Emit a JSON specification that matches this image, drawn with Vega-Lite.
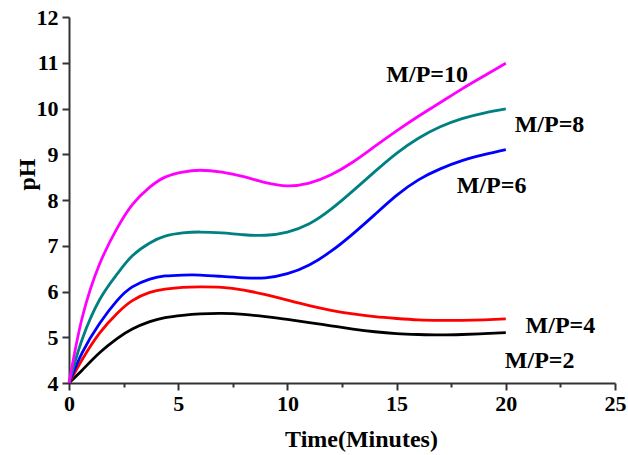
{
  "$schema": "https://vega.github.io/schema/vega-lite/v6.json",
  "width": 546,
  "height": 366,
  "autosize": "none",
  "padding": {"left": 69, "top": 17, "right": 13, "bottom": 72},
  "background": "white",
  "config": {"view": {"stroke": null}},
  "datasets": {
    "curves": [
      {"t": 0, "pH": 4, "s": "M/P=2"},
      {"t": 0.6, "pH": 4.28, "s": "M/P=2"},
      {"t": 1.4, "pH": 4.66, "s": "M/P=2"},
      {"t": 2.2, "pH": 4.97, "s": "M/P=2"},
      {"t": 2.9, "pH": 5.18, "s": "M/P=2"},
      {"t": 3.7, "pH": 5.34, "s": "M/P=2"},
      {"t": 4.4, "pH": 5.43, "s": "M/P=2"},
      {"t": 5.2, "pH": 5.48, "s": "M/P=2"},
      {"t": 6, "pH": 5.51, "s": "M/P=2"},
      {"t": 7, "pH": 5.52, "s": "M/P=2"},
      {"t": 8, "pH": 5.5, "s": "M/P=2"},
      {"t": 9, "pH": 5.45, "s": "M/P=2"},
      {"t": 10, "pH": 5.39, "s": "M/P=2"},
      {"t": 11, "pH": 5.32, "s": "M/P=2"},
      {"t": 12, "pH": 5.25, "s": "M/P=2"},
      {"t": 13, "pH": 5.18, "s": "M/P=2"},
      {"t": 14, "pH": 5.12, "s": "M/P=2"},
      {"t": 15, "pH": 5.08, "s": "M/P=2"},
      {"t": 16, "pH": 5.06, "s": "M/P=2"},
      {"t": 17, "pH": 5.05, "s": "M/P=2"},
      {"t": 18, "pH": 5.06, "s": "M/P=2"},
      {"t": 19, "pH": 5.08, "s": "M/P=2"},
      {"t": 20, "pH": 5.1, "s": "M/P=2"},

      {"t": 0, "pH": 4, "s": "M/P=4"},
      {"t": 0.6, "pH": 4.51, "s": "M/P=4"},
      {"t": 1.4, "pH": 5.09, "s": "M/P=4"},
      {"t": 2.2, "pH": 5.52, "s": "M/P=4"},
      {"t": 2.9, "pH": 5.8, "s": "M/P=4"},
      {"t": 3.7, "pH": 5.98, "s": "M/P=4"},
      {"t": 4.4, "pH": 6.05, "s": "M/P=4"},
      {"t": 5.2, "pH": 6.09, "s": "M/P=4"},
      {"t": 6, "pH": 6.1, "s": "M/P=4"},
      {"t": 7, "pH": 6.09, "s": "M/P=4"},
      {"t": 8, "pH": 6.03, "s": "M/P=4"},
      {"t": 9, "pH": 5.93, "s": "M/P=4"},
      {"t": 10, "pH": 5.81, "s": "M/P=4"},
      {"t": 11, "pH": 5.69, "s": "M/P=4"},
      {"t": 12, "pH": 5.59, "s": "M/P=4"},
      {"t": 13, "pH": 5.51, "s": "M/P=4"},
      {"t": 14, "pH": 5.45, "s": "M/P=4"},
      {"t": 15, "pH": 5.41, "s": "M/P=4"},
      {"t": 16, "pH": 5.38, "s": "M/P=4"},
      {"t": 17, "pH": 5.37, "s": "M/P=4"},
      {"t": 18, "pH": 5.37, "s": "M/P=4"},
      {"t": 19, "pH": 5.38, "s": "M/P=4"},
      {"t": 20, "pH": 5.4, "s": "M/P=4"},

      {"t": 0, "pH": 4, "s": "M/P=6"},
      {"t": 0.6, "pH": 4.66, "s": "M/P=6"},
      {"t": 1.4, "pH": 5.3, "s": "M/P=6"},
      {"t": 2.2, "pH": 5.8, "s": "M/P=6"},
      {"t": 2.9, "pH": 6.1, "s": "M/P=6"},
      {"t": 3.7, "pH": 6.27, "s": "M/P=6"},
      {"t": 4.4, "pH": 6.34, "s": "M/P=6"},
      {"t": 5.2, "pH": 6.36, "s": "M/P=6"},
      {"t": 6, "pH": 6.36, "s": "M/P=6"},
      {"t": 7, "pH": 6.33, "s": "M/P=6"},
      {"t": 8, "pH": 6.3, "s": "M/P=6"},
      {"t": 9, "pH": 6.3, "s": "M/P=6"},
      {"t": 10, "pH": 6.39, "s": "M/P=6"},
      {"t": 11, "pH": 6.58, "s": "M/P=6"},
      {"t": 12, "pH": 6.88, "s": "M/P=6"},
      {"t": 13, "pH": 7.26, "s": "M/P=6"},
      {"t": 14, "pH": 7.68, "s": "M/P=6"},
      {"t": 15, "pH": 8.1, "s": "M/P=6"},
      {"t": 16, "pH": 8.44, "s": "M/P=6"},
      {"t": 17, "pH": 8.68, "s": "M/P=6"},
      {"t": 18, "pH": 8.86, "s": "M/P=6"},
      {"t": 19, "pH": 8.99, "s": "M/P=6"},
      {"t": 20, "pH": 9.1, "s": "M/P=6"},

      {"t": 0, "pH": 4, "s": "M/P=8"},
      {"t": 0.6, "pH": 4.95, "s": "M/P=8"},
      {"t": 1.4, "pH": 5.82, "s": "M/P=8"},
      {"t": 2.2, "pH": 6.38, "s": "M/P=8"},
      {"t": 2.9, "pH": 6.78, "s": "M/P=8"},
      {"t": 3.7, "pH": 7.06, "s": "M/P=8"},
      {"t": 4.4, "pH": 7.21, "s": "M/P=8"},
      {"t": 5.2, "pH": 7.28, "s": "M/P=8"},
      {"t": 6, "pH": 7.3, "s": "M/P=8"},
      {"t": 7, "pH": 7.28, "s": "M/P=8"},
      {"t": 8, "pH": 7.24, "s": "M/P=8"},
      {"t": 9, "pH": 7.23, "s": "M/P=8"},
      {"t": 10, "pH": 7.3, "s": "M/P=8"},
      {"t": 11, "pH": 7.48, "s": "M/P=8"},
      {"t": 12, "pH": 7.8, "s": "M/P=8"},
      {"t": 13, "pH": 8.2, "s": "M/P=8"},
      {"t": 14, "pH": 8.62, "s": "M/P=8"},
      {"t": 15, "pH": 9.02, "s": "M/P=8"},
      {"t": 16, "pH": 9.35, "s": "M/P=8"},
      {"t": 17, "pH": 9.6, "s": "M/P=8"},
      {"t": 18, "pH": 9.78, "s": "M/P=8"},
      {"t": 19, "pH": 9.9, "s": "M/P=8"},
      {"t": 20, "pH": 9.99, "s": "M/P=8"},

      {"t": 0, "pH": 4, "s": "M/P=10"},
      {"t": 0.6, "pH": 5.42, "s": "M/P=10"},
      {"t": 1.4, "pH": 6.6, "s": "M/P=10"},
      {"t": 2.2, "pH": 7.38, "s": "M/P=10"},
      {"t": 2.9, "pH": 7.9, "s": "M/P=10"},
      {"t": 3.7, "pH": 8.28, "s": "M/P=10"},
      {"t": 4.4, "pH": 8.5, "s": "M/P=10"},
      {"t": 5.2, "pH": 8.61, "s": "M/P=10"},
      {"t": 6, "pH": 8.65, "s": "M/P=10"},
      {"t": 7, "pH": 8.61, "s": "M/P=10"},
      {"t": 8, "pH": 8.51, "s": "M/P=10"},
      {"t": 9, "pH": 8.38, "s": "M/P=10"},
      {"t": 10, "pH": 8.31, "s": "M/P=10"},
      {"t": 11, "pH": 8.37, "s": "M/P=10"},
      {"t": 12, "pH": 8.55, "s": "M/P=10"},
      {"t": 13, "pH": 8.83, "s": "M/P=10"},
      {"t": 14, "pH": 9.17, "s": "M/P=10"},
      {"t": 15, "pH": 9.51, "s": "M/P=10"},
      {"t": 16, "pH": 9.83, "s": "M/P=10"},
      {"t": 17, "pH": 10.13, "s": "M/P=10"},
      {"t": 18, "pH": 10.43, "s": "M/P=10"},
      {"t": 19, "pH": 10.71, "s": "M/P=10"},
      {"t": 20, "pH": 10.99, "s": "M/P=10"}
    ],
    "labels": [
      {"t": 16.4, "pH": 10.73, "s": "M/P=10"},
      {"t": 22.0, "pH": 9.64, "s": "M/P=8"},
      {"t": 19.35, "pH": 8.31, "s": "M/P=6"},
      {"t": 22.5, "pH": 5.25, "s": "M/P=4"},
      {"t": 21.55, "pH": 4.47, "s": "M/P=2"}
    ]
  },
  "layer": [
    {
      "data": {"name": "curves"},
      "mark": {"type": "line", "interpolate": "natural", "strokeWidth": 2.8, "clip": false},
      "encoding": {
        "x": {
          "field": "t", "type": "quantitative",
          "scale": {"domain": [0, 25], "nice": false, "zero": false},
          "axis": {
            "values": [0, 2.5, 5, 7.5, 10, 12.5, 15, 17.5, 20, 22.5, 25],
            "labelExpr": "datum.value % 5 === 0 ? datum.label : ''",
            "grid": false,
            "domainColor": "#333333", "domainWidth": 2,
            "tickColor": "#333333", "tickWidth": 2,
            "tickSize": {"condition": {"test": "datum.value % 5 === 0", "value": 7}, "value": 4},
            "labelFont": "Liberation Serif", "labelFontWeight": "bold", "labelFontSize": 22,
            "labelColor": "black", "labelPadding": 3, "labelFlush": false,
            "title": "Time(Minutes)",
            "titleFont": "Liberation Serif", "titleFontWeight": "bold", "titleFontSize": 24,
            "titleColor": "black", "titleX": 292, "titleY": 56, "titleBaseline": "middle"
          }
        },
        "y": {
          "field": "pH", "type": "quantitative",
          "scale": {"domain": [4, 12], "nice": false, "zero": false},
          "axis": {
            "values": [4, 4.5, 5, 5.5, 6, 6.5, 7, 7.5, 8, 8.5, 9, 9.5, 10, 10.5, 11, 11.5, 12],
            "labelExpr": "datum.value % 1 === 0 ? datum.label : ''",
            "grid": false,
            "domainColor": "#333333", "domainWidth": 2,
            "tickColor": "#333333", "tickWidth": 2,
            "tickSize": {"condition": {"test": "datum.value % 1 === 0", "value": 7}, "value": 4},
            "labelFont": "Liberation Serif", "labelFontWeight": "bold", "labelFontSize": 22,
            "labelColor": "black", "labelPadding": 4, "labelFlush": false,
            "title": "pH",
            "titleFont": "Liberation Serif", "titleFontWeight": "bold", "titleFontSize": 24,
            "titleColor": "black", "titleX": -42, "titleY": 157, "titleAngle": 270,
            "titleAlign": "center", "titleBaseline": "middle"
          }
        },
        "color": {
          "field": "s", "type": "nominal",
          "scale": {
            "domain": ["M/P=2", "M/P=4", "M/P=6", "M/P=8", "M/P=10"],
            "range": ["#000000", "#ff0000", "#0000ff", "#008080", "#ff00ff"]
          },
          "legend": null
        }
      }
    },
    {
      "data": {"name": "labels"},
      "mark": {"type": "text", "font": "Liberation Serif", "fontWeight": "bold", "fontSize": 24, "color": "black", "align": "center", "baseline": "middle"},
      "encoding": {
        "x": {"field": "t", "type": "quantitative"},
        "y": {"field": "pH", "type": "quantitative"},
        "text": {"field": "s"}
      }
    }
  ]
}
